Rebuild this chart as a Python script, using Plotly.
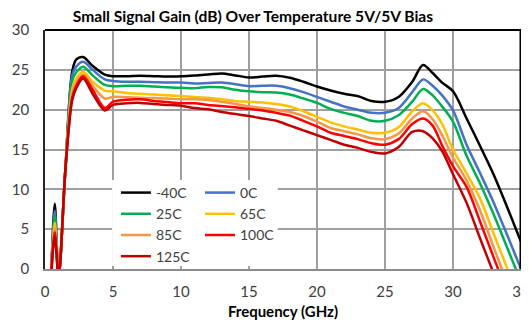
import plotly.graph_objects as go

# Frequency points (GHz)
freq = [0.45, 0.72, 1.0, 1.5, 2.0, 2.3, 2.8, 3.5, 4.4, 5, 6, 7, 8, 9, 10, 11, 12, 13, 14, 15,
        16, 17, 18, 19, 20, 21, 22, 23, 24, 25, 26, 27, 27.8, 28.5, 29.2, 30, 31, 32, 33, 34, 35]

gain_m40 = [-1, 8.2, -1, 12.5, 24.8, 26.3, 26.6, 25.5, 24.4, 24.2, 24.2, 24.25, 24.2, 24.15, 24.2, 24.3, 24.4, 24.55, 24.3, 24.05,
            24.15, 24.25, 24.0, 23.5, 22.9, 22.4, 22.0, 21.7, 21.1, 21.0, 21.6, 23.5, 25.6, 24.6, 23.4, 22.3, 18.9, 15.4, 11.8, 7.7, 3.4]
gain_0 = [-1, 7.3, -1, 12.5, 24.3, 25.4, 26.0, 25.0, 23.8, 23.6, 23.5, 23.5, 23.45, 23.4, 23.4, 23.3, 23.35, 23.4, 23.2, 22.95,
          23.0, 23.0, 22.7, 22.2, 21.6, 21.0, 20.4, 20.0, 19.6, 19.6, 20.2, 22.2, 23.8, 23.0, 21.8, 19.9, 15.6, 12.0, 8.3, 4.2, 0.0]
gain_25 = [-1, 6.6, -1, 12.5, 23.6, 24.7, 25.4, 24.3, 23.1, 22.95, 23.0, 23.0, 22.9, 22.8, 22.75, 22.7, 22.85, 22.8, 22.5, 22.3,
           22.2, 22.15, 21.9, 21.4, 20.85, 20.1, 19.6, 19.2, 18.6, 18.6, 19.3, 21.0, 22.6, 21.8, 20.4, 18.5, 14.2, 10.7, 6.8, 2.6, -1.6]
gain_65 = [-1, 5.8, -1, 12.5, 22.6, 23.9, 24.75, 23.5, 22.4, 22.3, 22.1, 22.0, 21.9, 21.8, 21.7, 21.6, 21.5, 21.3, 21.1, 21.0,
           20.9, 20.7, 20.4, 19.8, 19.1, 18.4, 17.9, 17.5, 17.1, 17.1, 17.8, 19.8, 20.8, 19.9, 18.2, 15.0, 12.0, 8.8, 4.4, 0.0, -4.3]
gain_85 = [-1, 5.1, -1, 12.5, 22.0, 23.4, 24.4, 23.0, 21.4, 21.6, 21.55, 21.5, 21.45, 21.4, 21.3, 21.3, 21.2, 21.0, 20.7, 20.4,
           20.2, 20.0, 19.7, 19.2, 18.5, 17.7, 17.3, 16.9, 16.4, 16.3, 17.0, 18.9, 19.8, 18.8, 16.8, 14.0, 11.1, 7.3, 2.7, -1.8, -6.0]
gain_100 = [-1, 4.6, -1, 12.5, 21.5, 23.0, 24.2, 22.5, 20.2, 21.0, 21.25, 21.3, 21.1, 20.95, 20.8, 20.8, 20.6, 20.45, 20.3, 20.1,
            19.9, 19.6, 19.25, 18.6, 17.9, 17.1, 16.7, 16.3, 15.8, 15.6, 16.3, 18.2, 18.9, 18.0, 15.5, 12.9, 10.3, 5.9, 1.4, -3.0, -7.0]
gain_125 = [-1, 4.1, -1, 12.5, 21.2, 22.7, 23.9, 22.0, 19.9, 20.6, 20.8, 20.85, 20.7, 20.6, 20.5, 20.2, 20.05, 19.7, 19.45, 19.2,
            18.9, 18.6, 18.0, 17.4, 16.8, 16.2, 15.6, 15.2, 14.7, 14.5, 15.3, 17.2, 17.3, 16.4, 14.8, 11.9, 8.3, 3.8, -0.6, -5.0, -9.0]

series_names = ["-40C", "0C", "25C", "65C", "85C", "100C", "125C"]
series_values = [gain_m40, gain_0, gain_25, gain_65, gain_85, gain_100, gain_125]
series_colors = ["#000000", "#4472C4", "#00B050", "#FFC000", "#F79646", "#FF0000", "#C00000"]
series_legend = ["legend", "legend2", "legend", "legend2", "legend", "legend2", "legend"]

x_range = [0, 35]
y_range = [0, 30]
x_ticks = [0, 5, 10, 15, 20, 25, 30, 35]
y_ticks = [0, 5, 10, 15, 20, 25, 30]

fig = go.Figure()
for name, vals, col, lg in zip(series_names, series_values, series_colors, series_legend):
    fig.add_trace(go.Scatter(
        x=freq, y=vals, mode="lines", name=name, legend=lg,
        line=dict(color=col, width=2.5, shape="spline", smoothing=0.9),
    ))

# white panel behind the legend (fractions of the plot area), between grid and traces
bx0, bx1, by0, by1 = 0.141, 0.489, 0.013, 0.372
def xf(f):
    return x_range[0] + f * (x_range[1] - x_range[0])
def yf(f):
    return y_range[0] + f * (y_range[1] - y_range[0])

FONT = "Lato"
fig.update_layout(
    width=521, height=312,
    margin=dict(l=37, r=8, t=22, b=51),
    paper_bgcolor="white", plot_bgcolor="white",
    font=dict(family=FONT, size=14, color="#404040"),
    title=dict(text="<b>Small Signal Gain (dB) Over Temperature 5V/5V Bias</b>",
               xref="container", x=245 / 521, xanchor="center", y=0.972, yanchor="middle",
               font=dict(family=FONT, size=15.6, color="#000000")),
    xaxis=dict(range=x_range, tickvals=x_ticks, showgrid=True, gridcolor="#A0A0A0", gridwidth=1.5,
               zeroline=False, showline=True, linecolor="#8C8C8C", linewidth=2, automargin=False,
               ticks="", ticklabelstandoff=8, ticklabeloverflow="allow",
               tickfont=dict(size=15, color="#404040"),
               title=dict(text="<b>Frequency (GHz)</b>", font=dict(size=15, color="#000000"), standoff=8)),
    yaxis=dict(range=y_range, tickvals=y_ticks, showgrid=True, gridcolor="#A0A0A0", gridwidth=1.5,
               zeroline=False, showline=True, linecolor="#262626", linewidth=1.5, automargin=False,
               ticks="", ticklabelstandoff=11, tickfont=dict(size=15, color="#404040")),
    legend=dict(x=0.149, y=0.385, xanchor="left", yanchor="top", bgcolor="rgba(0,0,0,0)",
                font=dict(size=14, color="#404040"), itemwidth=30, tracegroupgap=0),
    legend2=dict(x=0.3256, y=0.385, xanchor="left", yanchor="top", bgcolor="rgba(0,0,0,0)",
                 font=dict(size=14, color="#404040"), itemwidth=30, tracegroupgap=0),
    showlegend=True,
    shapes=[
        dict(type="rect", xref="x", yref="y", x0=xf(bx0), x1=xf(bx1), y0=yf(by0), y1=yf(by1),
             fillcolor="white", line=dict(width=0), layer="between"),
        dict(type="line", xref="x domain", yref="y domain", x0=0, x1=1, y0=1, y1=1,
             line=dict(color="#000000", width=2), layer="above"),
        dict(type="line", xref="x domain", yref="y domain", x0=1, x1=1, y0=0, y1=1,
             line=dict(color="#000000", width=3), layer="above"),
    ],
)

fig.write_html("out.html")
